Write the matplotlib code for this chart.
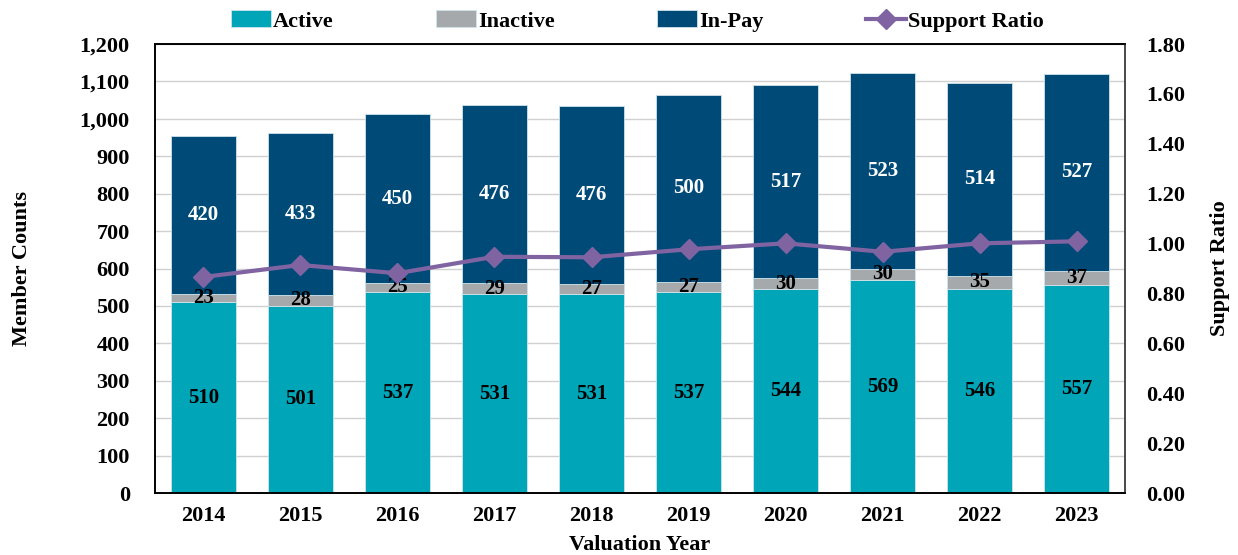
import matplotlib.pyplot as plt
from matplotlib.ticker import FuncFormatter, MultipleLocator
import numpy as np

years = ['2014', '2015', '2016', '2017', '2018', '2019', '2020', '2021', '2022', '2023']
active = [510, 501, 537, 531, 531, 537, 544, 569, 546, 557]
inactive = [23, 28, 25, 29, 27, 27, 30, 30, 35, 37]
in_pay = [420, 433, 450, 476, 476, 500, 517, 523, 514, 527]
support_ratio = [0.866, 0.914, 0.881, 0.947, 0.945, 0.977, 1.001, 0.967, 1.001, 1.009]

c_active = '#00A5B7'
c_inactive = '#A6A9AC'
c_inpay = '#004A78'
c_line = '#8064A2'

plt.rcParams['font.family'] = ['Liberation Serif', 'DejaVu Serif']
plt.rcParams['font.weight'] = 'bold'

fig = plt.figure(figsize=(12.38, 5.55), dpi=100)
ax = fig.add_axes([0.125, 0.1117, 0.784, 0.809])
x = np.arange(len(years))
w = 0.67
bot2 = np.array(active) + np.array(inactive)

b1 = ax.bar(x, active, w, color=c_active, edgecolor='#cfe3ea', linewidth=0.6, label='Active', zorder=2)
b2 = ax.bar(x, inactive, w, bottom=active, color=c_inactive, edgecolor='#cfe3ea', linewidth=0.6, label='Inactive', zorder=2)
b3 = ax.bar(x, in_pay, w, bottom=bot2, color=c_inpay, edgecolor='#cfe3ea', linewidth=0.6, label='In-Pay', zorder=2)

for i in range(len(years)):
    ax.text(x[i], active[i] / 2, str(active[i]), ha='center', va='center', fontsize=15, fontweight='bold', color='black', zorder=5)
    ax.text(x[i], active[i] + inactive[i] / 2, str(inactive[i]), ha='center', va='center', fontsize=15, fontweight='bold', color='black', zorder=5)
    ax.text(x[i], bot2[i] + in_pay[i] / 2, str(in_pay[i]), ha='center', va='center', fontsize=15, fontweight='bold', color='white', zorder=5)

ax.set_ylim(0, 1200)
ax.set_xlim(-0.5, len(years) - 0.5)
ax.yaxis.set_major_locator(MultipleLocator(100))
ax.yaxis.set_major_formatter(FuncFormatter(lambda v, p: f'{int(v):,}'))
ax.grid(axis='y', color='#d0d0d0', linewidth=1, zorder=0)
ax.set_axisbelow(True)
ax.set_xticks(x)
ax.set_xticklabels(years)
ax.tick_params(axis='y', length=0, labelsize=16, pad=18)
ax.tick_params(axis='x', length=0, labelsize=16, pad=9)
ax.set_ylabel('Member Counts', fontsize=16, fontweight='bold', labelpad=34)
ax.set_xlabel('Valuation Year', fontsize=16, fontweight='bold', labelpad=7)
for s in ax.spines.values():
    s.set_color('black')
    s.set_linewidth(1.2)

ax2 = ax.twinx()
ln, = ax2.plot(x, support_ratio, color=c_line, linewidth=3, marker='D', markersize=10, label='Support Ratio', zorder=4)
ax2.set_ylim(0, 1.8)
ax2.yaxis.set_major_locator(MultipleLocator(0.2))
ax2.yaxis.set_major_formatter(FuncFormatter(lambda v, p: f'{v:.2f}'))
ax2.tick_params(axis='y', length=0, labelsize=16, pad=15)
ax2.set_ylabel('Support Ratio', fontsize=16, fontweight='bold', labelpad=18)
for s in ax2.spines.values():
    s.set_color('black')
    s.set_linewidth(1.2)
ax2.spines['right'].set_color('#555555')

fig.legend(handles=[b1, b2, b3, ln], labels=['Active', 'Inactive', 'In-Pay', 'Support Ratio'],
           loc='center', bbox_to_anchor=(0.515, 0.962), ncol=4, frameon=False,
           fontsize=16, handlelength=1.8, handleheight=0.8, handletextpad=0.1, columnspacing=4.6)

fig.savefig('out.png', dpi=100)
